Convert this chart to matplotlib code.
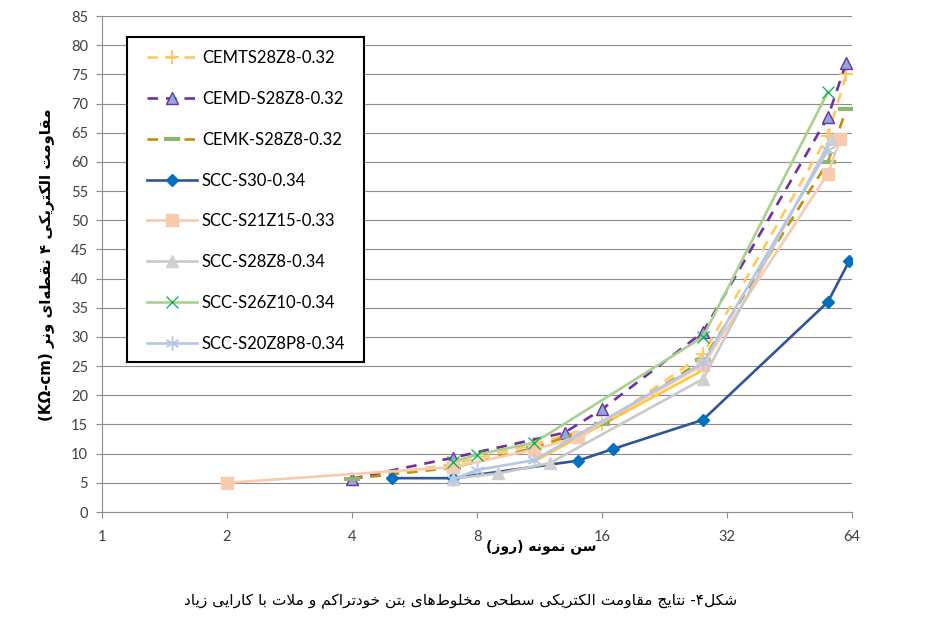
import re
import matplotlib
matplotlib.use("Agg")
import matplotlib.pyplot as plt
from matplotlib.lines import Line2D
from matplotlib.patches import Rectangle

# ---------------- data ----------------
series_names = ["CEMTS28Z8-0.32", "CEMD-S28Z8-0.32", "CEMK-S28Z8-0.32", "SCC-S30-0.34",
                "SCC-S21Z15-0.33", "SCC-S28Z8-0.34", "SCC-S26Z10-0.34", "SCC-S20Z8P8-0.34"]

days_cemts = [4, 7, 11, 16, 28, 56, 62]
vals_cemts = [5.7, 8.2, 11.6, 15.0, 27.0, 64.5, 75.0]

days_cemd = [4, 7, 13, 16, 28, 56, 62]
vals_cemd = [5.7, 9.3, 13.6, 17.6, 30.8, 67.7, 77.0]

days_cemk = [4, 7, 11, 16, 28, 56, 62]
vals_cemk = [5.7, 7.6, 11.0, 15.0, 26.0, 60.0, 69.0]

days_s30 = [5, 7, 14, 17, 28, 56, 63]
vals_s30 = [5.8, 5.8, 8.8, 10.8, 15.8, 36.0, 43.0]

days_s21z15 = [2, 7, 11, 14, 28, 56, 60]
vals_s21z15 = [5.0, 7.7, 10.7, 12.9, 25.2, 58.0, 64.0]

days_s28z8 = [7, 9, 12, 28, 57]
vals_s28z8 = [5.7, 6.6, 8.4, 22.8, 64.0]

days_s26z10 = [7, 8, 11, 28, 56]
vals_s26z10 = [8.6, 9.8, 11.9, 30.0, 72.0]

days_s20z8p8 = [7, 8, 11, 28, 56]
vals_s20z8p8 = [5.6, 7.2, 8.9, 25.5, 62.0]

days_extra = [11, 28]
vals_extra = [8.7, 24.3]

x_ticks = [1, 2, 4, 8, 16, 32, 64]
y_ticks = list(range(0, 90, 5))

ylabel_text = "مقاومت الکتریکی ۴ نقطه\u200cای ونر (KΩ-cm)"
xlabel_text = "سن نمونه (روز)"
caption_text = "شکل۴- نتایج مقاومت الکتریکی سطحی مخلوط\u200cهای بتن خودتراکم و ملات با کارایی زیاد"

# ---------------- Persian shaping (no external libs) ----------------
AR_FORMS = {
    '\u0627': ('\uFE8D', '\uFE8E', None, None),
    '\u0628': ('\uFE8F', '\uFE90', '\uFE91', '\uFE92'),
    '\u062A': ('\uFE95', '\uFE96', '\uFE97', '\uFE98'),
    '\u062C': ('\uFE9D', '\uFE9E', '\uFE9F', '\uFEA0'),
    '\u062D': ('\uFEA1', '\uFEA2', '\uFEA3', '\uFEA4'),
    '\u062E': ('\uFEA5', '\uFEA6', '\uFEA7', '\uFEA8'),
    '\u062F': ('\uFEA9', '\uFEAA', None, None),
    '\u0631': ('\uFEAD', '\uFEAE', None, None),
    '\u0632': ('\uFEAF', '\uFEB0', None, None),
    '\u0633': ('\uFEB1', '\uFEB2', '\uFEB3', '\uFEB4'),
    '\u0634': ('\uFEB5', '\uFEB6', '\uFEB7', '\uFEB8'),
    '\u0637': ('\uFEC1', '\uFEC2', '\uFEC3', '\uFEC4'),
    '\u0642': ('\uFED5', '\uFED6', '\uFED7', '\uFED8'),
    '\u0644': ('\uFEDD', '\uFEDE', '\uFEDF', '\uFEE0'),
    '\u0645': ('\uFEE1', '\uFEE2', '\uFEE3', '\uFEE4'),
    '\u0646': ('\uFEE5', '\uFEE6', '\uFEE7', '\uFEE8'),
    '\u0647': ('\uFEE9', '\uFEEA', '\uFEEB', '\uFEEC'),
    '\u0648': ('\uFEED', '\uFEEE', None, None),
    '\u06A9': ('\uFB8E', '\uFB8F', '\uFB90', '\uFB91'),
    '\u06CC': ('\uFBFC', '\uFBFD', '\uFBFE', '\uFBFF'),
}


def _dual(c):
    return c in AR_FORMS and AR_FORMS[c][2] is not None


def _shape(s):
    out = []
    i, n = 0, len(s)
    while i < n:
        c = s[i]
        if c not in AR_FORMS:
            if c != '\u200c':
                out.append(c)
            i += 1
            continue
        jp = i > 0 and _dual(s[i - 1])
        if c == '\u0644' and i + 1 < n and s[i + 1] == '\u0627':
            out.append('\uFEFC' if jp else '\uFEFB')
            i += 2
            continue
        nxt = s[i + 1] if i + 1 < n else ''
        jn = _dual(c) and nxt in AR_FORMS
        f = AR_FORMS[c]
        if jp and jn:
            g = f[3]
        elif jp:
            g = f[1]
        elif jn:
            g = f[2]
        else:
            g = f[0]
        out.append(g)
        i += 1
    return ''.join(out)


def rtl(s):
    v = _shape(s)[::-1].translate(str.maketrans('()', ')('))
    return re.sub(r'[A-Za-z0-9\u03A9][A-Za-z0-9\u03A9\-]*', lambda m: m.group(0)[::-1], v)


# ---------------- figure ----------------
plt.rcParams['font.family'] = ['Lato', 'DejaVu Sans']
fig = plt.figure(figsize=(9.27, 6.43), dpi=100)
ax = fig.add_axes([102 / 927, 1 - 512 / 643, 750 / 927, 496 / 643])

ax.set_xscale('log', base=2)
ax.set_xlim(1, 64)
ax.set_ylim(0, 85)
ax.set_xticks(x_ticks)
ax.set_xticklabels([str(t) for t in x_ticks])
ax.xaxis.set_minor_locator(matplotlib.ticker.NullLocator())
ax.set_yticks(y_ticks)

ax.yaxis.grid(True, color='#8c8c8c', lw=0.8)
ax.set_axisbelow(True)
for s in ['top', 'right']:
    ax.spines[s].set_visible(False)
for s in ['left', 'bottom']:
    ax.spines[s].set_color('#8c8c8c')
    ax.spines[s].set_linewidth(0.8)
ax.tick_params(axis='both', direction='out', length=4, width=0.8, color='#8c8c8c',
               labelcolor='#404040', labelsize=10.5)
ax.tick_params(axis='y', pad=6)
ax.tick_params(axis='x', pad=9)

DASH = (0, (4, 3))
styles = [
    dict(color='#FFC95E', ls=DASH, lw=1.9, marker='+', ms=10, mew=1.4, mec='#FFC95E'),
    dict(color='#7030A0', ls=DASH, lw=1.9, marker='^', ms=9, mfc='#8EA9DB', mec='#7030A0', mew=1.0),
    dict(color='#BF9000', ls=DASH, lw=1.9, marker='_', ms=11, mew=3, mec='#8DB86B'),
    dict(color='#2F5597', ls='-', lw=1.9, marker='D', ms=6, mfc='#0070C0', mec='#0070C0'),
    dict(color='#F8CBAD', ls='-', lw=1.9, marker='s', ms=9, mfc='#F8CBAD', mec='#F8CBAD'),
    dict(color='#C9C9C9', ls='-', lw=1.9, marker='^', ms=9, mfc='#D0D0D0', mec='#D0D0D0'),
    dict(color='#A9D18E', ls='-', lw=1.9, marker='x', ms=9, mew=0.9, mec='#00B050'),
    dict(color='#B4C7E7', ls='-', lw=1.9, marker=(6, 2, 0), ms=10, mew=1.0, mec='#B4C7E7'),
]
data = [(days_cemts, vals_cemts), (days_cemd, vals_cemd), (days_cemk, vals_cemk),
        (days_s30, vals_s30), (days_s21z15, vals_s21z15), (days_s28z8, vals_s28z8),
        (days_s26z10, vals_s26z10), (days_s20z8p8, vals_s20z8p8)]

# unlabeled solid gold line
ax.plot(days_extra, vals_extra, color='#FFC83D', lw=1.9, zorder=2.5)

handles = []
for k, ((xs, ys), st, name) in enumerate(zip(data, styles, series_names)):
    ax.plot(xs, ys, zorder=3 + k * 0.1, **st)
    handles.append(Line2D([], [], **st))

# legend box
ax.add_patch(Rectangle(((127 - 102) / 750, (512 - 362) / 496), (364 - 127) / 750, (362 - 37) / 496,
                       transform=ax.transAxes, facecolor='white', edgecolor='black', lw=1.5,
                       zorder=10, clip_on=False))
leg = ax.legend(handles, series_names, loc='upper left',
                bbox_to_anchor=((147 - 102) / 750, (512 - 50) / 496),
                frameon=False, borderpad=0, borderaxespad=0, handlelength=3.0,
                handletextpad=0.3, labelspacing=1.49, numpoints=1, fontsize=12)
leg.set_zorder(11)
for t in leg.get_texts():
    t.set_color('black')

# texts
fig.text(46 / 927, 1 - 265 / 643, rtl(ylabel_text), rotation=90, ha='center', va='center',
         fontsize=10.8, fontweight='bold', family=['DejaVu Sans'])
fig.text(541 / 927, 1 - 547 / 643, rtl(xlabel_text), ha='center', va='center',
         fontsize=10, fontweight='bold', family=['DejaVu Sans'])
fig.text(461 / 927, 1 - 601 / 643, rtl(caption_text), ha='center', va='center',
         fontsize=11.1, family=['DejaVu Sans'])

fig.savefig('out.png', dpi=100)
